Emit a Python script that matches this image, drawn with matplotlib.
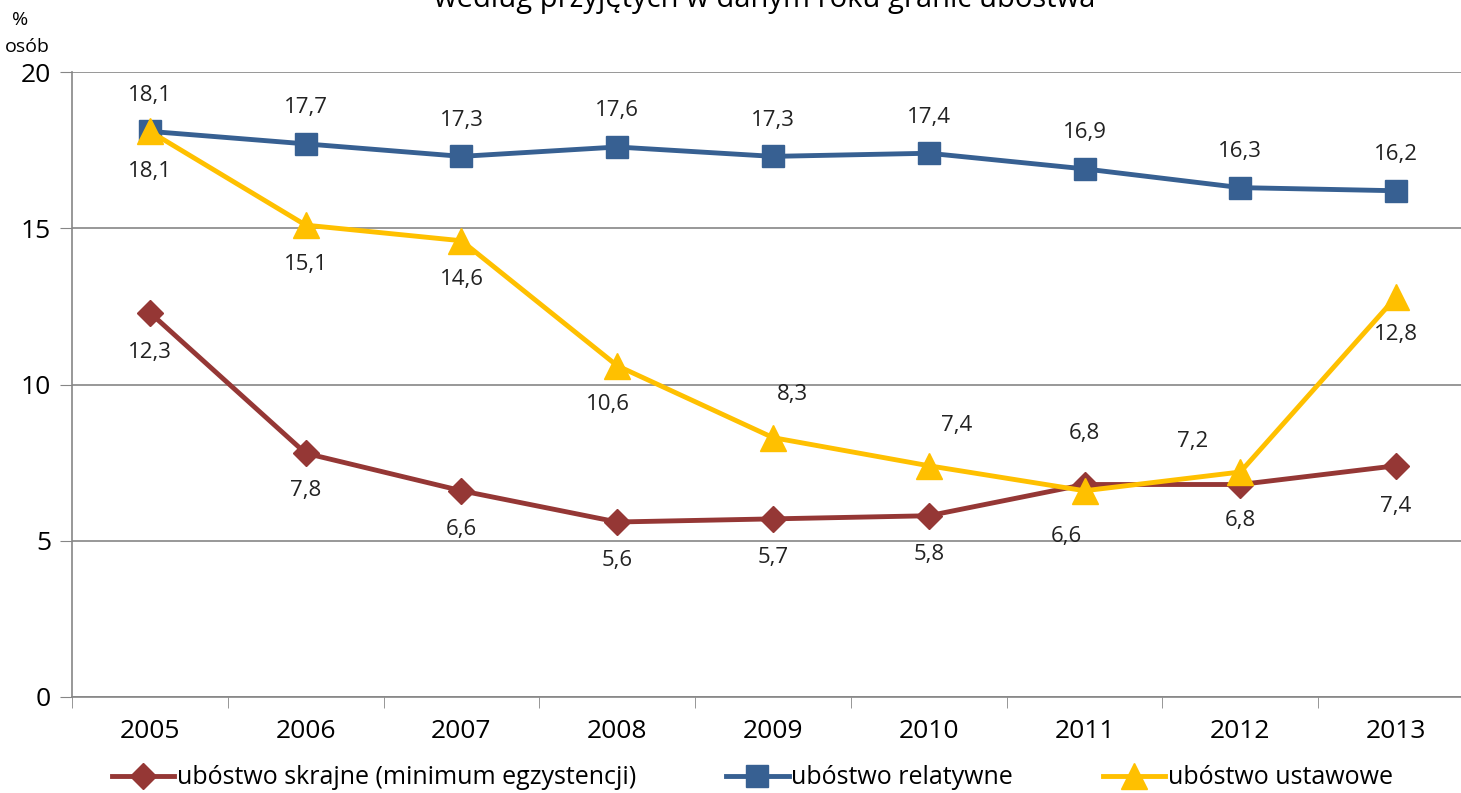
import numpy as np
import matplotlib.pyplot as plt

plt.rcParams["font.family"] = ["Open Sans", "DejaVu Sans"]

years = ["2005", "2006", "2007", "2008", "2009", "2010", "2011", "2012", "2013"]
skrajne = [12.3, 7.8, 6.6, 5.6, 5.7, 5.8, 6.8, 6.8, 7.4]
relatywne = [18.1, 17.7, 17.3, 17.6, 17.3, 17.4, 16.9, 16.3, 16.2]
ustawowe = [18.1, 15.1, 14.6, 10.6, 8.3, 7.4, 6.6, 7.2, 12.8]

# label offsets in points (dx, dy), Excel-like placement
off_skr = [(0, -29), (0, -27), (0, -28), (0, -28), (0, -28), (0, -28), (0, 37), (0, -26), (0, -29)]
off_rel = [(0, 26)] * 9
off_ust = [(0, -29), (0, -28), (0, -28), (-7, -28), (14, 31), (20, 29), (-13, -33), (-34, 22), (0, -27)]

fig = plt.figure(figsize=(14.61, 7.93), dpi=100)
ax = fig.add_axes([72 / 1461, 96 / 793, 1402 / 1461, 625 / 793])

x = np.arange(len(years))
c_skr, c_rel, c_ust = "#953735", "#376092", "#FFC000"

ax.plot(x, skrajne, color=c_skr, lw=3.5, marker="D", ms=13, label="ubóstwo skrajne (minimum egzystencji)", zorder=3)
ax.plot(x, relatywne, color=c_rel, lw=3.5, marker="s", ms=16, label="ubóstwo relatywne", zorder=3)
ax.plot(x, ustawowe, color=c_ust, lw=3.5, marker="^", ms=19, label="ubóstwo ustawowe", zorder=4)

for vals, offs in [(skrajne, off_skr), (relatywne, off_rel), (ustawowe, off_ust)]:
    for xi, v, (dx, dy) in zip(x, vals, offs):
        ax.annotate(f"{v:.1f}".replace(".", ","), (xi, v), xytext=(dx, dy),
                    textcoords="offset points", ha="center", va="center",
                    fontsize=16, color="#222222")

ax.set_xlim(-0.5, len(years) - 0.5)
ax.set_ylim(0, 20)
ax.set_yticks([0, 5, 10, 15, 20])
ax.set_yticklabels(["0", "5", "10", "15", "20"], fontsize=19)
ax.set_xticks(x)
ax.set_xticklabels(years, fontsize=19)
ax.set_xticks(np.arange(-0.5, len(years), 1), minor=True)
ax.tick_params(axis="x", which="major", length=0, pad=16)
ax.tick_params(axis="x", which="minor", length=8, color="#868686")
ax.tick_params(axis="y", length=9, color="#868686", pad=6)
ax.grid(axis="y", color="#868686", lw=1.2)
ax.set_axisbelow(True)
for s in ["top", "right"]:
    ax.spines[s].set_visible(False)
for s in ["left", "bottom"]:
    ax.spines[s].set_color("#868686")
    ax.spines[s].set_linewidth(1.2)

fig.text(20 / 1461, 1 - 20 / 793, "%", ha="center", va="center", fontsize=14)
fig.text(27 / 1461, 1 - 47 / 793, "osób", ha="center", va="center", fontsize=14)
fig.text(765 / 1461, 1 - 7 / 793, "według przyjętych w danym roku granic ubóstwa",
         ha="center", va="baseline", fontsize=21)

fig.legend(loc="center", bbox_to_anchor=(0.515, 15 / 793), ncol=3, frameon=False,
           fontsize=18, handlelength=2.5, handletextpad=0.1, columnspacing=3.6)

fig.savefig("out.png", dpi=100)
